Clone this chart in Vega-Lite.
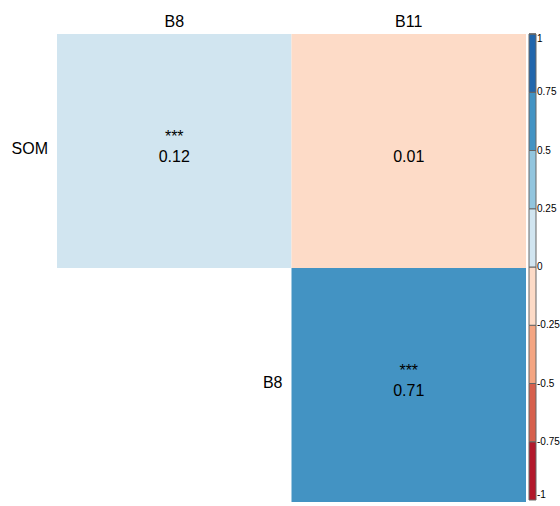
{
  "$schema": "https://vega.github.io/schema/vega-lite/v6.json",
  "width": 469,
  "height": 468,
  "autosize": "none",
  "padding": {"left": 57, "top": 34, "right": 34, "bottom": 4},
  "background": "white",
  "config": {"view": {"stroke": null}, "font": "Liberation Sans"},
  "data": {"values": [
    {"row": "SOM", "col": "B8", "r": 0.12, "sig": "***"},
    {"row": "SOM", "col": "B11", "r": 0.01, "sig": ""},
    {"row": "B8", "col": "B11", "r": 0.71, "sig": "***"}
  ]},
  "encoding": {
    "x": {"field": "col", "type": "nominal",
      "scale": {"domain": ["B8", "B11"], "paddingInner": 0, "paddingOuter": 0},
      "axis": {"orient": "top", "title": null, "ticks": false, "domain": false, "labelAngle": 0,
        "labelFontSize": 16, "labelFont": "Liberation Sans", "labelPadding": 5, "labelColor": "black", "grid": false}},
    "y": {"field": "row", "type": "nominal",
      "scale": {"domain": ["SOM", "B8"], "paddingInner": 0, "paddingOuter": 0},
      "axis": null}
  },
  "layer": [
    {"mark": {"type": "rect"},
     "encoding": {"color": {"field": "r", "type": "quantitative",
        "scale": {"type": "threshold", "domain": [-0.75, -0.5, -0.25, 0.05, 0.25, 0.5, 0.75],
          "range": ["#B2182B", "#D6604D", "#F4A582", "#FDDBC7", "#D1E5F0", "#92C5DE", "#4393C3", "#2166AC"]},
        "legend": null}}},
    {"mark": {"type": "rect", "fillOpacity": 0, "strokeWidth": 0},
     "encoding": {"fill": {"field": "r", "type": "quantitative",
        "scale": {"type": "quantize", "domain": [-1, 1], "nice": false,
          "range": ["#B2182B", "#D6604D", "#F4A582", "#FDDBC7", "#D1E5F0", "#92C5DE", "#4393C3", "#2166AC"]},
        "legend": {"type": "gradient", "direction": "vertical", "orient": "none", "legendX": 472, "legendY": 0,
          "gradientLength": 466, "gradientThickness": 7, "title": null,
          "gradientStrokeColor": "#666", "gradientStrokeWidth": 1,
          "values": [-1, -0.75, -0.5, -0.25, 0, 0.25, 0.5, 0.75, 1],
          "labelExpr": "'' + datum.value",
          "labelFontSize": 10, "labelFont": "Liberation Sans", "labelColor": "black", "labelOffset": 1,
          "labelOverlap": false}}}},
    {"mark": {"type": "text", "fontSize": 16, "font": "Liberation Sans", "color": "black", "baseline": "alphabetic", "dy": 11},
     "encoding": {"text": {"field": "r", "type": "quantitative", "format": ".2f"}}},
    {"mark": {"type": "text", "fontSize": 16, "font": "Liberation Sans", "color": "black", "baseline": "alphabetic", "dy": -9},
     "encoding": {"text": {"field": "sig", "type": "nominal"}}},
    {"data": {"values": [{"row": "SOM", "col": "B8"}, {"row": "B8", "col": "B11"}]},
     "mark": {"type": "text", "fontSize": 16, "font": "Liberation Sans", "color": "black", "align": "right", "baseline": "middle", "dx": -9, "dy": -2},
     "encoding": {
       "x": {"field": "col", "type": "nominal", "bandPosition": 0},
       "text": {"field": "row", "type": "nominal"}}}
  ],
  "resolve": {"scale": {"color": "independent", "fill": "independent"}}
}
